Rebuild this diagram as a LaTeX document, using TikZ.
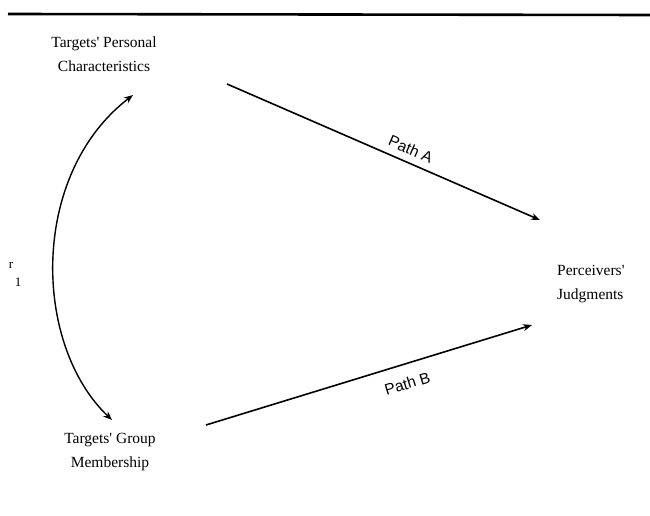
\documentclass[tikz,border=0pt]{standalone}
\usepackage{fontspec}
\setmainfont{Liberation Serif}
\newfontfamily\labelsans{Liberation Sans}
\usetikzlibrary{arrows.meta}
\newcommand{\apos}{\textquotesingle}
\begin{document}
\begin{tikzpicture}[x=1pt,y=-1pt,
  txt/.style={font=\fontsize{15.5}{24}\selectfont, align=center, inner sep=0pt},
  pathlbl/.style={font=\labelsans\fontsize{15.5}{16}\selectfont, inner sep=0pt},
  conn/.style={line width=1.6pt, -{Stealth[length=9pt,width=7pt]}}]
\useasboundingbox (0,0) rectangle (650,516);
\coordinate (ruleL) at (8,14);
\coordinate (ruleR) at (650,15);
\draw[line width=2.6pt] (ruleL) -- (ruleR);
\node[txt] (pc) at (104,54) {Targets\apos{} Personal\\Characteristics};
\node[txt] (gm) at (110,452) {Targets\apos{} Group\\Membership};
\node[txt, align=left, anchor=west] (pj) at (557,284) {Perceivers\apos\\Judgments};
\node[font=\fontsize{13}{13}\selectfont, inner sep=0pt] (r) at (11,265) {r};
\node[font=\fontsize{13}{13}\selectfont, inner sep=0pt] (one) at (18,282) {1};
\coordinate (aS) at (227,84);
\coordinate (aE) at (540,220);
\coordinate (bS) at (206,425);
\coordinate (bE) at (532,325);
\coordinate (cS) at (112,420);
\coordinate (cE) at (133,95);
\draw[conn] (aS) -- (aE) node[pathlbl, pos=0.57, above=7pt, sloped] (la) {Path A};
\draw[conn] (bS) -- (bE) node[pathlbl, pos=0.6, below=13pt, sloped] (lb) {Path B};
\draw[line width=1.4pt, {Stealth[length=9pt,width=7pt]}-{Stealth[length=9pt,width=7pt]}] (cS) .. controls (33,345) and (29,175) .. (cE);
\end{tikzpicture}
\end{document}
